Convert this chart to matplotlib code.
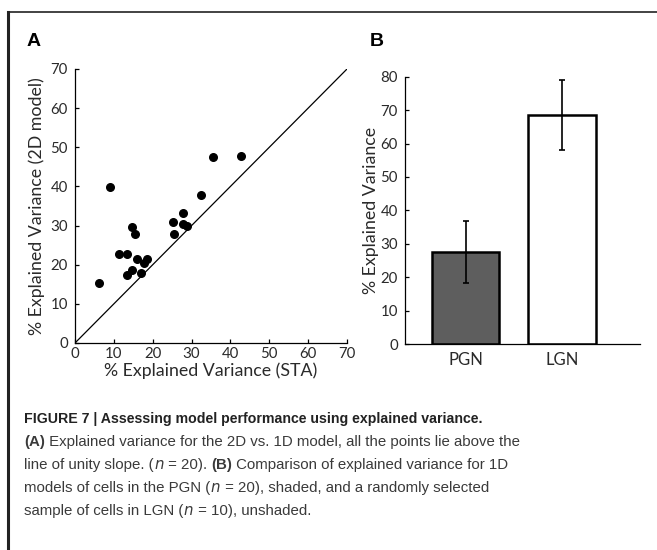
import matplotlib.pyplot as plt
import numpy as np

# Panel A : explained variance, STA (x) vs 2D model (y)
sta_ev = [6.3, 9.0, 11.4, 13.5, 13.5, 14.7, 14.7, 15.5, 15.9, 17.1,
          17.7, 18.6, 25.2, 25.4, 27.8, 27.8, 28.7, 32.5, 35.4, 42.8]
model2d_ev = [15.3, 39.8, 22.8, 22.8, 17.3, 18.7, 29.7, 27.9, 21.4, 17.8,
              20.5, 21.4, 30.9, 27.9, 33.3, 30.3, 29.9, 37.7, 47.5, 47.9]

# Panel B : mean explained variance per nucleus
groupes = ["PGN", "LGN"]
moyennes = [27.6, 68.6]
erreurs = [9.2, 10.5]

W, H = 657, 550
fig = plt.figure(figsize=(W / 100, H / 100), dpi=100)
plt.rcParams['font.family'] = ['Lato', 'DejaVu Sans']
txt = '#2a2a2a'


def box(l, t, r, b):
    # pixel box -> figure coords
    return [l / W, 1 - b / H, (r - l) / W, (b - t) / H]


# cadre de la figure (haut et gauche)
fig.add_artist(plt.Line2D([8 / W, 1], [1 - 12 / H, 1 - 12 / H], color='#222222', lw=1.2))
fig.add_artist(plt.Line2D([8 / W, 8 / W], [1 - 12 / H, 0], color='#222222', lw=2.2))

# ---- panel A
ax1 = fig.add_axes(box(75, 69, 347, 343))
ax1.scatter(sta_ev, model2d_ev, s=30, color='black', zorder=3)
ax1.plot([0, 70], [0, 70], color='black', lw=0.9)
ax1.set_xlim(0, 70)
ax1.set_ylim(0, 70)
ax1.set_xticks(np.arange(0, 71, 10))
ax1.set_yticks(np.arange(0, 71, 10))

# ---- panel B
ax2 = fig.add_axes(box(405, 76.7, 640, 344))
ax2.bar([1, 2], moyennes, width=0.7, color=['#5e5e5e', 'white'],
        edgecolor='black', linewidth=1.8, zorder=2)
ax2.errorbar([1, 2], moyennes, yerr=erreurs, fmt='none', ecolor='black',
             elinewidth=1.2, capsize=2, capthick=1.2, zorder=3)
ax2.set_xlim(0.37, 2.81)
ax2.set_ylim(0, 80)
ax2.set_yticks(np.arange(0, 81, 10))
ax2.set_xticks([1, 2])
ax2.set_xticklabels(groupes)

for ax in (ax1, ax2):
    for s in ('top', 'right'):
        ax.spines[s].set_visible(False)
    for s in ('left', 'bottom'):
        ax.spines[s].set_linewidth(0.9)
    ax.tick_params(direction='in', length=3, width=0.9, labelsize=10.8, labelcolor=txt)
    ax.tick_params(axis='y', pad=5)
    ax.tick_params(axis='x', pad=3)
ax2.tick_params(axis='x', length=0, labelsize=12, pad=6)

ax1.set_xlabel('% Explained Variance (STA)', fontsize=12.8, color=txt, labelpad=1)
ax1.set_ylabel('% Explained Variance (2D model)', fontsize=12.8, color=txt, labelpad=4)
ax2.set_ylabel('% Explained Variance', fontsize=12.8, color=txt, labelpad=1)

fig.text(27 / W, 1 - 42 / H, 'A', fontsize=14, fontweight='bold', va='center',
         family='Liberation Sans')
fig.text(370 / W, 1 - 41 / H, 'B', fontsize=14, fontweight='bold', va='center',
         family='Liberation Sans')

# ---- legende
cap = dict(family=['Liberation Sans', 'DejaVu Sans'], fontsize=10.8, color='#3a3a3a', va='baseline')
fig.text(24 / W, 1 - 423 / H,
         'FIGURE 7 | Assessing model performance using explained variance.',
         fontweight='bold', **{**cap, 'color': '#222222', 'fontsize': 10.2})
lignes = [
    [('(A)', True), (' Explained variance for the 2D vs. 1D model, all the points lie above the', False)],
    [('line of unity slope. (', False), ('$n$', False), (' = 20). ', False), ('(B)', True),
     (' Comparison of explained variance for 1D', False)],
    [('models of cells in the PGN (', False), ('$n$', False),
     (' = 20), shaded, and a randomly selected', False)],
    [('sample of cells in LGN (', False), ('$n$', False), (' = 10), unshaded.', False)],
]
fig.canvas.draw()
rend = fig.canvas.get_renderer()
for i, ligne in enumerate(lignes):
    x = 24 / W
    y = 1 - (446 + i * 23) / H
    for morceau, gras in ligne:
        t = fig.text(x, y, morceau, fontweight='bold' if gras else 'normal', **cap)
        bb = t.get_window_extent(renderer=rend)
        x += bb.width / W

fig.savefig('out.png', dpi=100)
